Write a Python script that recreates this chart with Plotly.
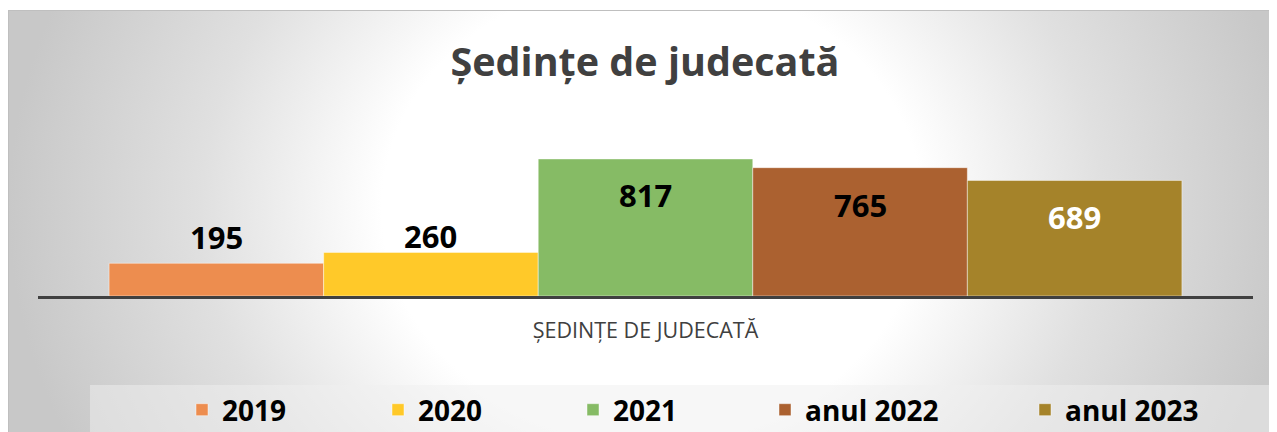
import base64
import plotly.graph_objects as go

# ---------------- data ----------------
categories = ["ȘEDINȚE DE JUDECATĂ"]
series_names = ["2019", "2020", "2021", "anul 2022", "anul 2023"]
values = [195, 260, 817, 765, 689]

# ---------------- style ----------------
colors = ["#ED8D4F", "#FFC929", "#86BB65", "#AB6130", "#A5832A"]
label_colors = ["#000000", "#000000", "#000000", "#000000", "#ffffff"]
label_shifts = [26, 16, -36, -37, -37]          # px offset of each value label from bar top
legend_left_px = [195, 391, 586, 778, 1038]     # page x of each legend swatch
FONT = "Open Sans, Liberation Sans, Arial, sans-serif"

PAGE = 8                      # browser body margin
W, H = 1277, 432
# plot area in page pixels: x 38..1253, y 140..296
L = 38 - PAGE
R = W - (1253 - PAGE)
T = 140 - PAGE
B = H - (296 - PAGE)
plot_w = W - L - R
plot_h = H - T - B
YMAX = 930
BARGAP = 0.117
LEG_Y_PX = 410
LEG_OFFSET = 13


def px_to_paper_x(page_x):
    return (page_x - PAGE - L) / plot_w


def px_to_paper_y(page_y):
    return (H - B - (page_y - PAGE)) / plot_h


fig = go.Figure()
n = len(values)
for i, (name, v, c) in enumerate(zip(series_names, values, colors)):
    lg = "legend" if i == 0 else f"legend{i + 1}"
    fig.add_trace(go.Bar(
        x=categories, y=[v], name=name,
        marker=dict(color=c, line=dict(color="rgba(255,255,255,0.45)", width=1)),
        legend=lg, hoverinfo="skip",
    ))

# value labels placed on the bars via the data axes
group_w = 1 - BARGAP
bar_w = group_w / n
annotations = []
for i, v in enumerate(values):
    annotations.append(dict(
        x=-group_w / 2 + (i + 0.5) * bar_w, y=v, xref="x", yref="y",
        text=f"<b>{v}</b>", showarrow=False, yanchor="middle", yshift=label_shifts[i],
        font=dict(family=FONT, size=31, color=label_colors[i]),
    ))

# background (radial gradient + legend band) as an inline svg image
IW, IH = W, H - 2
svg = (
    f'<svg xmlns="http://www.w3.org/2000/svg" width="{IW}" height="{IH}" '
    f'viewBox="0 0 {IW} {IH}" preserveAspectRatio="none">'
    '<defs><radialGradient id="g" cx="0.5" cy="0.45" r="0.5" '
    'gradientTransform="translate(0.5 0.45) scale(1 2.5) translate(-0.5 -0.45)">'
    '<stop offset="0" stop-color="#ffffff"/><stop offset="0.42" stop-color="#ffffff"/>'
    '<stop offset="0.7" stop-color="#e0e0e0"/><stop offset="1" stop-color="#c8c8c8"/>'
    '</radialGradient></defs>'
    f'<rect x="0.5" y="0.5" width="{IW + 10}" height="{IH + 10}" fill="url(#g)" stroke="#bfbfbf" stroke-width="1"/>'
    f'<rect x="82" y="375" width="{IW}" height="60" fill="#f0f0f0" fill-opacity="0.5"/>'
    '</svg>'
)
src = "data:image/svg+xml;base64," + base64.b64encode(svg.encode()).decode()

layout = dict(
    width=W, height=H, autosize=False,
    margin=dict(l=L, r=R, t=T, b=B, pad=0, autoexpand=False),
    paper_bgcolor="#ffffff", plot_bgcolor="rgba(0,0,0,0)",
    barmode="group", bargap=BARGAP, bargroupgap=0,
    title=dict(text="<b>Ședințe de judecată</b>", x=(645 - PAGE) / W, xanchor="center",
               y=1 - (62 - PAGE) / H, yanchor="middle",
               font=dict(family=FONT, size=39.5, color="#404040")),
    xaxis=dict(range=[-0.5, 0.5], showline=True, linecolor="#404040", linewidth=3,
               ticks="", showgrid=False, zeroline=False, ticklabelstandoff=13,
               automargin=False,
               tickfont=dict(family=FONT, size=21.5, color="#404040")),
    yaxis=dict(range=[0, YMAX], visible=False, showgrid=False, zeroline=False,
               automargin=False),
    images=[dict(source=src, xref="paper", yref="paper",
                 x=px_to_paper_x(8), y=px_to_paper_y(10),
                 sizex=IW / plot_w, sizey=IH / plot_h,
                 xanchor="left", yanchor="top", sizing="stretch", layer="below")],
    annotations=annotations,
    showlegend=True,
)
for i in range(n):
    lg = "legend" if i == 0 else f"legend{i + 1}"
    layout[lg] = dict(
        x=px_to_paper_x(legend_left_px[i] - LEG_OFFSET), y=px_to_paper_y(LEG_Y_PX),
        xanchor="left", yanchor="middle", orientation="h",
        bgcolor="rgba(0,0,0,0)", borderwidth=0,
        font=dict(family=FONT, size=28, color="#000000", weight="bold"),
    )
fig.update_layout(**layout)

fig.write_html("out.html")
